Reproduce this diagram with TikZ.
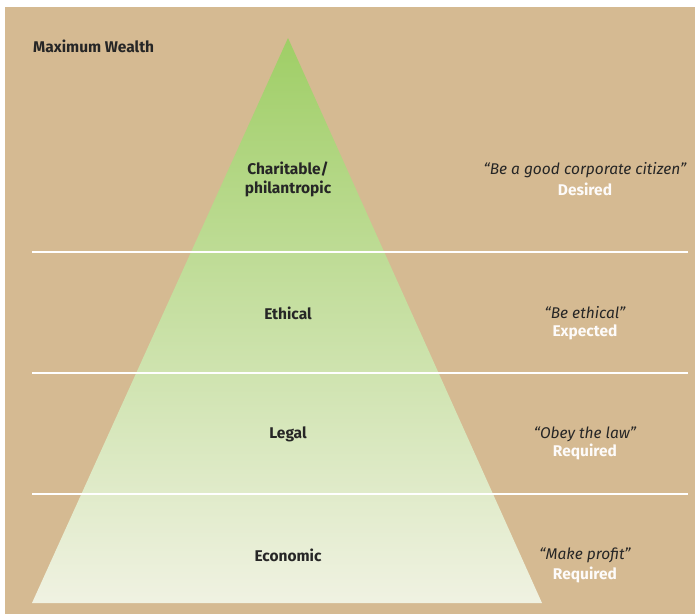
\documentclass[tikz,border=0pt]{standalone}
\usepackage{fontspec}
\setmainfont{Fira Sans}
\definecolor{tan}{HTML}{D5BA92}
\definecolor{gtop}{HTML}{9FCE66}
\definecolor{gbot}{HTML}{F0F2E2}
\definecolor{ink}{HTML}{262626}
\begin{document}
\begin{tikzpicture}[x=1pt,y=-1pt,
  lvl/.style={text=ink,font=\fontsize{15.5}{19}\selectfont\bfseries,align=center,inner sep=0pt},
  quote/.style={text=ink,font=\fontsize{15.5}{19}\selectfont\itshape,inner sep=0pt},
  kind/.style={text=white!95!tan,font=\fontsize{15.5}{19}\selectfont\bfseries,inner sep=0pt},
  sep/.style={draw=white,line width=1.8pt}]
\useasboundingbox (0,0) rectangle (695,614);
\fill[white] (0,0) rectangle (695,614);
\fill[tan] (5,7) rectangle (695,614);
\shade[top color=gtop,bottom color=gbot] (288,38) -- (542,603) -- (32,603) -- cycle;
\draw[sep] (32,252) -- (688,252);
\draw[sep] (32,373) -- (688,373);
\draw[sep] (32,494) -- (688,494);
\node[lvl,anchor=west] (max) at (33,46) {Maximum Wealth};
\node[lvl] (char) at (288,179) {Charitable/\\philantropic};
\node[lvl] (eth) at (288,313) {Ethical};
\node[lvl] (leg) at (288,434) {Legal};
\node[lvl] (eco) at (288,555) {Economic};
\node[quote] (q1) at (585,170) {“Be a good corporate citizen”};
\node[kind] (k1) at (585,189) {Desired};
\node[quote] (q2) at (585,313) {“Be ethical”};
\node[kind] (k2) at (585,332) {Expected};
\node[quote] (q3) at (585,434) {“Obey the law”};
\node[kind] (k3) at (585,452) {Required};
\node[quote] (q4) at (585,555) {“Make profit”};
\node[kind] (k4) at (585,575) {Required};
\end{tikzpicture}
\end{document}
